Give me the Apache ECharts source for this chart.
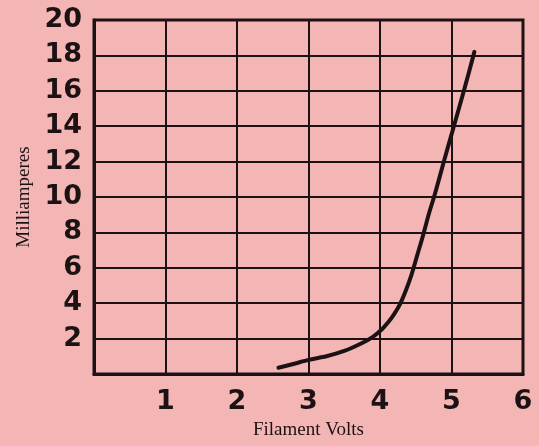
<!DOCTYPE html>
<html>
<head>
<meta charset="utf-8">
<script src="https://cdn.jsdelivr.net/npm/echarts@6/dist/echarts.min.js"></script>
<style>
html,body{margin:0;padding:0;background:#f4b6b5;}
#chart{width:539px;height:446px;}
</style>
</head>
<body>
<div id="chart"></div>
<script>
const volts = [2.58, 2.8, 3.0, 3.25, 3.5, 3.75, 3.9, 4.02, 4.12, 4.2, 4.28, 4.36, 4.44, 4.52, 4.6, 4.68, 4.77, 4.9, 5.04, 5.18, 5.32];
const milliamps = [0.35, 0.58, 0.8, 1.0, 1.3, 1.75, 2.1, 2.5, 2.95, 3.4, 3.95, 4.7, 5.6, 6.7, 7.8, 9.0, 10.2, 12.1, 14.1, 16.1, 18.2];
const xTicks = [1, 2, 3, 4, 5, 6];
const yTicks = [2, 4, 6, 8, 10, 12, 14, 16, 18, 20];

const ink = '#1c1214';
const chart = echarts.init(document.getElementById('chart'));
chart.setOption({
  backgroundColor: '#f4b6b5',
  animation: false,
  grid: {left: 94, right: 16, top: 20, bottom: 72, show: true, borderColor: ink, borderWidth: 3,
         backgroundColor: 'transparent', containLabel: false, outerBoundsMode: 'none'},
  xAxis: {
    type: 'value', min: 0, max: 6, interval: 1,
    name: 'Filament Volts', nameLocation: 'middle', nameGap: 47,
    nameTextStyle: {fontFamily: 'Liberation Serif', fontSize: 19, color: ink},
    axisLine: {show: true, lineStyle: {color: ink, width: 3}},
    axisTick: {show: false},
    splitLine: {show: true, lineStyle: {color: ink, width: 2}},
    axisLabel: {
      margin: 14, color: ink, fontFamily: 'DejaVu Sans', fontWeight: 'bold', fontSize: 27,
      formatter: v => xTicks.includes(v) ? String(v) : ''
    }
  },
  yAxis: {
    type: 'value', min: 0, max: 20, interval: 2,
    name: 'Milliamperes', nameLocation: 'middle', nameGap: 60,
    nameTextStyle: {fontFamily: 'Liberation Serif', fontSize: 19, color: ink},
    axisLine: {show: true, lineStyle: {color: ink, width: 3}},
    axisTick: {show: false},
    splitLine: {show: true, lineStyle: {color: ink, width: 2}},
    axisLabel: {
      margin: 12, color: ink, fontFamily: 'DejaVu Sans', fontWeight: 'bold', fontSize: 27,
      formatter: v => yTicks.includes(v) ? String(v) : ''
    }
  },
  series: [{
    type: 'line',
    data: volts.map((v, i) => [v, milliamps[i]]),
    smooth: 0.3,
    showSymbol: false,
    lineStyle: {color: ink, width: 4, cap: 'round', join: 'round'}
  }]
});
</script>
</body>
</html>
